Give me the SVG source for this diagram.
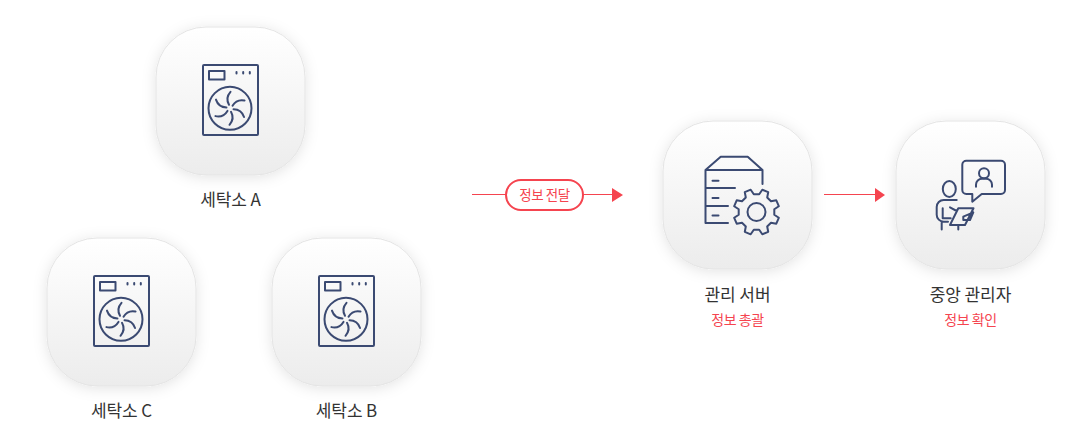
<svg xmlns="http://www.w3.org/2000/svg" xmlns:xlink="http://www.w3.org/1999/xlink" width="1090" height="444" viewBox="0 0 1090 444">
<style>
text{font-family:"Noto Sans CJK KR","Noto Sans",sans-serif;text-anchor:middle}
.name{font-size:17px;fill:#333;letter-spacing:-.1px}
.sub{font-size:14px;fill:#f5444f;letter-spacing:-.4px}
.card{fill:url(#cardGrad);stroke:#e4e4e4;stroke-width:1;filter:url(#soft)}
.ic{fill:none;stroke:#3b4a72;stroke-width:2;stroke-linecap:round;stroke-linejoin:round}
.ln{stroke:#f5444f;stroke-width:1;fill:none}
.hd{fill:#f5444f}
</style>
<defs>
<linearGradient id="cardGrad" x1="0" y1="0" x2="0" y2="1"><stop offset="0" stop-color="#fff"/><stop offset="1" stop-color="#ececec"/></linearGradient>
<filter id="soft" x="-25%" y="-25%" width="150%" height="150%"><feDropShadow dx="0" dy="2" stdDeviation="7" flood-color="#000" flood-opacity=".11"/></filter>
<g id="washer">
<rect class="ic" x="-27.500" y="-43.500" width="55" height="70" rx="1"/>
<rect class="ic" x="-21.500" y="-37.500" width="15.500" height="8.500"/>
<path class="ic" d="M6-36.500v1.500M12.700-36.500v1.500M19.300-36.500v1.500"/>
<circle class="ic" cx="-.5" cy="-.2" r="21.500"/>
<g transform="translate(-.5 -.2)">
<path id="blade" class="ic" d="M-1-3.500C-3.500-8-3.500-12 .5-16.500"/>
<use xlink:href="#blade" transform="rotate(60)"/>
<use xlink:href="#blade" transform="rotate(120)"/>
<use xlink:href="#blade" transform="rotate(180)"/>
<use xlink:href="#blade" transform="rotate(240)"/>
<use xlink:href="#blade" transform="rotate(300)"/>
</g>
</g>
</defs>
<rect width="1090" height="444" fill="#fff"/>
<g id="connectors">
<path class="ln" d="M472 194.500H612"/>
<path class="hd" d="M612 188l11 7-11 7z"/>
<rect x="506" y="180" width="77" height="30" rx="15" fill="#fff" stroke="#f5444f" stroke-width="2"/>
<text x="544.500" y="199.500" style="font-size:13.500px;fill:#f5444f;letter-spacing:-.4px">정보 전달</text>
<path class="ln" d="M824 194.500H875"/>
<path class="hd" d="M875 188l10 7-10 7z"/>
</g>
<g id="node-a">
<rect class="card" x="156" y="27" width="149" height="148" rx="50"/>
<use xlink:href="#washer" transform="translate(230.500 108.500)"/>
<text class="name" x="230.500" y="206">세탁소 A</text>
</g>
<g id="node-c">
<rect class="card" x="47" y="238" width="149" height="148" rx="50"/>
<use xlink:href="#washer" transform="translate(121.500 319.500)"/>
<text class="name" x="121.500" y="417">세탁소 C</text>
</g>
<g id="node-b">
<rect class="card" x="272" y="238" width="149" height="148" rx="50"/>
<use xlink:href="#washer" transform="translate(346.500 319.500)"/>
<text class="name" x="346.500" y="417">세탁소 B</text>
</g>
<g id="node-server">
<rect class="card" x="663" y="121" width="149" height="148" rx="50"/>
<path class="ic" d="M705.500 223V170L720.700 156.700H747.700L762.500 170V184M705.500 170H762.500M705.500 188H735M705.500 206H728M705.500 223H728M712.500 180.700H718.500M712.500 198H718.500M712.500 215.500H718.500"/>
<path class="ic" transform="translate(756.500 212)" d="M17.800 2.700L22.300 5.800 19.800 11.700 14.500 10.700 10.700 14.500 11.700 19.800 5.800 22.300 2.700 17.800-2.700 17.800-5.800 22.300-11.700 19.800-10.700 14.500-14.500 10.700-19.800 11.700-22.300 5.800-17.800 2.700-17.800-2.700-22.300-5.800-19.800-11.700-14.500-10.700-10.700-14.500-11.700-19.800-5.800-22.300-2.700-17.800 2.700-17.800 5.800-22.300 11.700-19.800 10.700-14.500 14.500-10.700 19.800-11.700 22.300-5.800 17.800-2.700Z"/>
<circle class="ic" cx="756.500" cy="212" r="9"/>
<text class="name" x="737.500" y="301">관리 서버</text>
<text class="sub" x="737.500" y="325">정보 총괄</text>
</g>
<g id="node-admin">
<rect class="card" x="896" y="121" width="149" height="148" rx="50"/>
<path class="ic" d="M972.300 194H966.300A4 4 0 0 1 962.300 190V164.700A4 4 0 0 1 966.300 160.700H1001A4 4 0 0 1 1005 164.700V190A4 4 0 0 1 1001 194H981.700L972.300 201.700Z"/>
<circle class="ic" cx="984" cy="173.300" r="5"/>
<path class="ic" d="M976 186.700V184.700A6 6 0 0 1 982 178.700H986A6 6 0 0 1 992 184.700V186.700"/>
<ellipse class="ic" cx="949.300" cy="189" rx="6.500" ry="8"/>
<path class="ic" d="M956.700 200H943.700A7 7 0 0 0 936.700 207V214.700A7 7 0 0 0 943.700 221.700H948M942.700 208.300V218.300H950.700M950 207.300L956.700 211M941.700 222V229.500M958.300 225V229.500M958.300 208.300H973.500L965 225H950ZM963.300 216.700L973.300 212.300 970 220H963.300Z"/>
<text class="name" x="970.500" y="301">중앙 관리자</text>
<text class="sub" x="970.500" y="325">정보 확인</text>
</g>
</svg>
